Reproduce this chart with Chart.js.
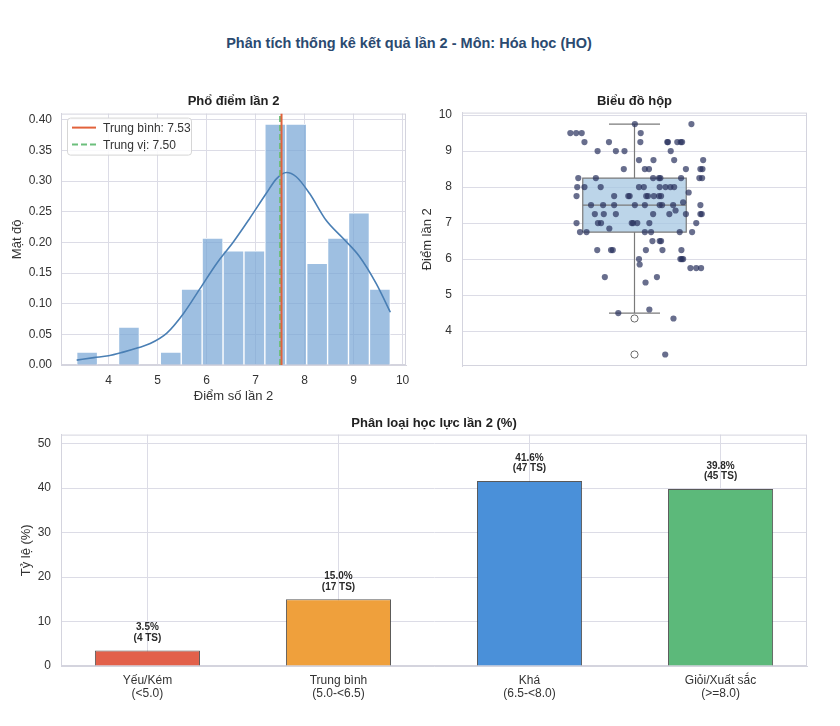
<!DOCTYPE html>
<html>
<head>
<meta charset="utf-8">
<script src="https://cdn.jsdelivr.net/npm/chart.js@4.4.1/dist/chart.umd.min.js"></script>
<style>
  body { margin: 0; background: #fff; }
  #page { position: relative; width: 840px; height: 726px; background: #fff; overflow: hidden; }
  #mainTitle { position: absolute; left: 0; top: 35px; width: 818px; text-align: center;
    font: bold 14.5px 'Liberation Sans', Arial, sans-serif; color: #2b4a70; }
  .pane { position: absolute; }
</style>
</head>
<body>
<div id="page">
  <div id="mainTitle">Phân tích thống kê kết quả lần 2 - Môn: Hóa học (HO)</div>
  <div class="pane" style="left:0;top:85px"><canvas id="histChart" width="420" height="330"></canvas></div>
  <div class="pane" style="left:420px;top:85px"><canvas id="boxChart" width="420" height="330"></canvas></div>
  <div class="pane" style="left:0;top:405px"><canvas id="gradeChart" width="840" height="321"></canvas></div>
</div>
<script>
// ---- data ----
// histogram (15 bins from 3.35 to 9.75), density values
const histBinCenters = [3.563, 3.990, 4.417, 4.843, 5.270, 5.697, 6.123, 6.550, 6.977, 7.403, 7.830, 8.257, 8.683, 9.110, 9.537];
const histDensity = [0.021, 0, 0.062, 0, 0.021, 0.124, 0.207, 0.186, 0.186, 0.393, 0.393, 0.166, 0.207, 0.248, 0.124];
// KDE curve
const kdeX = [3.35, 3.7, 4.0, 4.3, 4.6, 4.85, 5.19, 5.53, 5.87, 6.21, 6.55, 6.88, 7.22, 7.43, 7.63, 7.83, 8.1, 8.44, 8.78, 9.12, 9.46, 9.75];
const kdeY = [0.008, 0.012, 0.015, 0.021, 0.028, 0.035, 0.052, 0.084, 0.125, 0.166, 0.201, 0.239, 0.28, 0.304, 0.314, 0.307, 0.28, 0.236, 0.207, 0.177, 0.133, 0.086];
const meanScore = 7.53;
const medianScore = 7.50;
const histXTicks = [4, 5, 6, 7, 8, 9, 10];
const histYTicks = [0, 0.05, 0.10, 0.15, 0.20, 0.25, 0.30, 0.35, 0.40];

// box plot summary
const boxQ1 = 6.75, boxMedian = 7.5, boxQ3 = 8.25;
const whiskerLow = 4.5, whiskerHigh = 9.75;
const outliers = [4.35, 3.35];
const boxYTicks = [4, 5, 6, 7, 8, 9, 10];

// strip points (score, horizontal jitter in category units)
const stripScores = [
  9.75, 9.75,
  9.5, 9.5, 9.5, 9.5,
  9.25, 9.25, 9.25, 9.25, 9.25, 9.25, 9.25, 9.25,
  9.0, 9.0, 9.0, 9.0,
  8.75, 8.75, 8.75, 8.75,
  8.5, 8.5, 8.5, 8.5, 8.5, 8.5,
  8.25, 8.25, 8.25, 8.25, 8.25, 8.25, 8.25, 8.25,
  8.0, 8.0, 8.0, 8.0, 8.0, 8.0, 8.0, 8.0, 8.0,
  7.85,
  7.75, 7.75, 7.75, 7.75, 7.75, 7.75, 7.75, 7.75, 7.75,
  7.58,
  7.5, 7.5, 7.5, 7.5, 7.5, 7.5, 7.5, 7.5, 7.5,
  7.35,
  7.25, 7.25, 7.25, 7.25, 7.25, 7.25, 7.25, 7.25,
  7.0, 7.0, 7.0, 7.0, 7.0, 7.0, 7.0, 7.0,
  6.85,
  6.75, 6.75, 6.75, 6.75, 6.75, 6.75,
  6.5, 6.5, 6.5,
  6.25, 6.25, 6.25, 6.25, 6.25, 6.25,
  6.0, 6.0, 6.0, 6.0,
  5.85,
  5.75, 5.75, 5.75,
  5.5, 5.5,
  5.35,
  4.6, 4.5, 4.35, 3.35
];
const stripJitter = [
  0.001, 0.165,
  -0.186, -0.169, -0.153, 0.018,
  -0.145, -0.074, 0.017, 0.095, 0.097, 0.124, 0.134, 0.138,
  -0.107, -0.054, -0.029, 0.105,
  0.013, 0.055, 0.115, 0.199,
  -0.031, 0.030, 0.042, 0.149, 0.191, 0.197,
  -0.163, -0.112, 0.054, 0.071, 0.075, 0.135, 0.188, 0.196,
  -0.166, -0.145, -0.098, 0.013, 0.027, 0.073, 0.090, 0.104, 0.115,
  0.157,
  -0.168, -0.059, -0.018, -0.014, 0.034, 0.039, 0.056, 0.071, 0.077,
  0.141,
  -0.126, -0.091, -0.059, 0.001, 0.030, 0.073, 0.080, 0.112, 0.191,
  0.119,
  -0.115, -0.089, -0.054, 0.054, 0.101, 0.149, 0.191, 0.195,
  -0.168, -0.106, -0.097, -0.008, -0.004, 0.008, 0.043, 0.179,
  -0.073,
  -0.158, -0.139, 0.030, 0.048, 0.131, 0.167,
  0.052, 0.073, 0.077,
  -0.108, -0.068, -0.063, 0.033, 0.081, 0.136,
  0.013, 0.133, 0.137, 0.141,
  0.015,
  0.162, 0.179, 0.193,
  -0.086, 0.065,
  0.032,
  0.043, -0.047, 0.113, 0.089
];

// grade classification
const gradeLabels = [['Yếu/Kém', '(<5.0)'], ['Trung bình', '(5.0-<6.5)'], ['Khá', '(6.5-<8.0)'], ['Giỏi/Xuất sắc', '(>=8.0)']];
const gradePercent = [3.5, 15.0, 41.6, 39.8];
const gradeCount = [4, 17, 47, 45];
const gradeColors = ['#e2604a', '#efa03c', '#4a90d9', '#5cb97a'];

// ---- styling ----
const FONT = "'Liberation Sans', Arial, sans-serif";
const GRID = '#dcdce6';
const TEXT = '#333333';
Chart.defaults.font.family = FONT;
Chart.defaults.color = TEXT;
Chart.defaults.animation = false;

const setTicks = values => scale => { scale.ticks = values.map(v => ({ value: v })); };

// light frame round the plot area
const framePlugin = {
  id: 'frame',
  beforeDatasetsDraw(chart) {
    const a = chart.chartArea, ctx = chart.ctx;
    ctx.save();
    ctx.strokeStyle = '#d4d4de';
    ctx.lineWidth = 1;
    ctx.strokeRect(a.left + 0.5, a.top + 0.5, a.right - a.left - 1, a.bottom - a.top - 1);
    ctx.restore();
  }
};

// legend box for mean / median lines
const histLegend = {
  id: 'histLegend',
  afterDatasetsDraw(chart) {
    const a = chart.chartArea, ctx = chart.ctx;
    const x = a.left + 6, y = a.top + 4, w = 124, h = 37;
    ctx.save();
    ctx.fillStyle = 'rgba(255,255,255,0.85)';
    ctx.strokeStyle = '#d6d6d6';
    ctx.lineWidth = 1;
    ctx.beginPath();
    ctx.roundRect(x + 0.5, y + 0.5, w, h, 3);
    ctx.fill();
    ctx.stroke();
    const rows = [
      { ds: chart.data.datasets[0], text: 'Trung bình: ' + meanScore.toFixed(2) },
      { ds: chart.data.datasets[1], text: 'Trung vị: ' + medianScore.toFixed(2) }
    ];
    rows.forEach((r, i) => {
      const cy = y + 10 + i * 17;
      ctx.strokeStyle = r.ds.borderColor;
      ctx.lineWidth = 2;
      ctx.setLineDash(r.ds.borderDash || []);
      ctx.beginPath();
      ctx.moveTo(x + 5, cy);
      ctx.lineTo(x + 29, cy);
      ctx.stroke();
      ctx.setLineDash([]);
      ctx.fillStyle = TEXT;
      ctx.font = '12px ' + FONT;
      ctx.textBaseline = 'middle';
      ctx.fillText(r.text, x + 36, cy + 1);
    });
    ctx.restore();
  }
};

// ---- histogram ----
new Chart(document.getElementById('histChart'), {
  type: 'bar',
  data: {
    datasets: [
      { type: 'line', label: 'Trung bình', data: [{ x: meanScore, y: 0 }, { x: meanScore, y: 0.41 }],
        borderColor: '#e2623b', borderWidth: 2, pointRadius: 0, order: 0 },
      { type: 'line', label: 'Trung vị', data: [{ x: medianScore, y: 0 }, { x: medianScore, y: 0.41 }],
        borderColor: '#6cbf7c', borderWidth: 2, borderDash: [6, 3], pointRadius: 0, order: 0 },
      { type: 'line', label: 'KDE', data: kdeX.map((x, i) => ({ x, y: kdeY[i] })),
        borderColor: '#4a7fb4', borderWidth: 1.6, pointRadius: 0, cubicInterpolationMode: 'monotone', order: 1 },
      { type: 'bar', label: 'Mật độ', data: histBinCenters.map((x, i) => ({ x, y: histDensity[i] })),
        backgroundColor: 'rgba(120,166,214,0.72)', borderColor: '#ffffff', borderWidth: 1,
        barPercentage: 1, categoryPercentage: 1, order: 2 }
    ]
  },
  options: {
    responsive: false,
    layout: { padding: { left: 0, right: 14, top: 0, bottom: 0 } },
    plugins: {
      legend: { display: false },
      tooltip: { enabled: false },
      title: { display: true, text: 'Phổ điểm lần 2', fullSize: false, color: '#222',
        font: { size: 13, weight: 'bold' }, padding: { top: 9, bottom: 4 } }
    },
    scales: {
      x: {
        type: 'linear', min: 3.03, max: 10.07, offset: false,
        afterBuildTicks: setTicks(histXTicks),
        afterFit: s => { s.height = 50; },
        grid: { color: GRID, drawTicks: false, offset: false },
        border: { color: '#d4d4de' },
        ticks: { padding: 8, font: { size: 12 }, callback: v => String(v) },
        title: { display: true, text: 'Điểm số lần 2', font: { size: 13 }, padding: { top: 0, bottom: 11 } }
      },
      y: {
        min: 0, max: 0.41,
        afterBuildTicks: setTicks(histYTicks),
        afterFit: s => { s.width = 61; },
        grid: { color: GRID, drawTicks: false },
        border: { color: '#d4d4de' },
        ticks: { padding: 9, font: { size: 12 }, callback: v => v.toFixed(2) },
        title: { display: true, text: 'Mật độ', font: { size: 13 }, padding: { top: 10, bottom: 0 } }
      }
    }
  },
  plugins: [framePlugin, histLegend]
});

// ---- box plot with strip points ----
const BOX_HALF = 0.15, CAP_HALF = 0.074;
const lineStyle = { type: 'line', borderColor: '#7a7a7a', borderWidth: 1.2, pointRadius: 0, fill: false, order: 3 };
new Chart(document.getElementById('boxChart'), {
  type: 'scatter',
  data: {
    datasets: [
      { label: 'Điểm', data: stripScores.map((y, i) => ({ x: stripJitter[i], y })),
        backgroundColor: 'rgba(40,48,92,0.7)', borderColor: 'rgba(40,48,92,0.0)', pointRadius: 3.1, order: 0 },
      { label: 'Ngoại lai', data: outliers.map(y => ({ x: 0, y })),
        backgroundColor: '#ffffff', borderColor: '#6a6a6a', borderWidth: 1, pointRadius: 3.6, order: 1 },
      { ...lineStyle, label: 'median', data: [{ x: -BOX_HALF, y: boxMedian }, { x: BOX_HALF, y: boxMedian }], order: 2 },
      { ...lineStyle, label: 'box', order: 4, fill: 'shape', backgroundColor: 'rgba(165,199,226,0.75)',
        data: [{ x: -BOX_HALF, y: boxQ1 }, { x: BOX_HALF, y: boxQ1 }, { x: BOX_HALF, y: boxQ3 },
               { x: -BOX_HALF, y: boxQ3 }, { x: -BOX_HALF, y: boxQ1 }] },
      { ...lineStyle, label: 'whiskerHigh', data: [{ x: 0, y: boxQ3 }, { x: 0, y: whiskerHigh }] },
      { ...lineStyle, label: 'capHigh', data: [{ x: -CAP_HALF, y: whiskerHigh }, { x: CAP_HALF, y: whiskerHigh }] },
      { ...lineStyle, label: 'whiskerLow', data: [{ x: 0, y: boxQ1 }, { x: 0, y: whiskerLow }] },
      { ...lineStyle, label: 'capLow', data: [{ x: -CAP_HALF, y: whiskerLow }, { x: CAP_HALF, y: whiskerLow }] }
    ]
  },
  options: {
    responsive: false,
    layout: { padding: { left: 0, right: 33, top: 0, bottom: 49 } },
    plugins: {
      legend: { display: false },
      tooltip: { enabled: false },
      title: { display: true, text: 'Biểu đồ hộp', fullSize: false, color: '#222',
        font: { size: 13, weight: 'bold' }, padding: { top: 9, bottom: 3 } }
    },
    scales: {
      x: { type: 'linear', min: -0.5, max: 0.5, display: false },
      y: {
        min: 3.03, max: 10.07,
        afterBuildTicks: setTicks(boxYTicks),
        afterFit: s => { s.width = 42; },
        grid: { color: GRID, drawTicks: false },
        border: { color: '#d4d4de' },
        ticks: { padding: 10, font: { size: 12 } },
        title: { display: true, text: 'Điểm lần 2', font: { size: 13 }, padding: { top: 0, bottom: 0 } }
      }
    }
  },
  plugins: [framePlugin]
});

// ---- grade classification bars ----
const barLabels = {
  id: 'barLabels',
  afterDatasetsDraw(chart) {
    const ctx = chart.ctx;
    const meta = chart.getDatasetMeta(0);
    ctx.save();
    ctx.fillStyle = '#2a2a2a';
    ctx.font = 'bold 10px ' + FONT;
    ctx.textAlign = 'center';
    ctx.textBaseline = 'middle';
    meta.data.forEach((bar, i) => {
      ctx.fillText(gradePercent[i].toFixed(1) + '%', bar.x, bar.y - 23);
      ctx.fillText('(' + gradeCount[i] + ' TS)', bar.x, bar.y - 12.5);
    });
    ctx.restore();
  }
};

new Chart(document.getElementById('gradeChart'), {
  type: 'bar',
  data: {
    datasets: [{
      label: 'Tỷ lệ (%)',
      data: gradePercent.map((y, i) => ({ x: i, y })),
      backgroundColor: gradeColors,
      borderColor: 'rgba(60,60,60,0.85)',
      borderWidth: 1,
      barPercentage: 0.55,
      categoryPercentage: 1
    }]
  },
  options: {
    responsive: false,
    layout: { padding: { left: 0, right: 33, top: 0, bottom: 0 } },
    plugins: {
      legend: { display: false },
      tooltip: { enabled: false },
      title: { display: true, text: 'Phân loại học lực lần 2 (%)', fullSize: false, color: '#222',
        font: { size: 13, weight: 'bold' }, padding: { top: 11, bottom: 3 } }
    },
    scales: {
      x: {
        type: 'linear', min: -0.4525, max: 3.4525, offset: false,
        afterBuildTicks: setTicks([0, 1, 2, 3]),
        afterFit: s => { s.height = 60; },
        grid: { color: GRID, drawTicks: false, offset: false },
        border: { color: '#d4d4de' },
        ticks: { padding: 8, font: { size: 12, lineHeight: 1.1 }, callback: v => gradeLabels[v] }
      },
      y: {
        min: 0, max: 52,
        afterBuildTicks: setTicks([0, 10, 20, 30, 40, 50]),
        afterFit: s => { s.width = 61; },
        grid: { color: GRID, drawTicks: false },
        border: { color: '#d4d4de' },
        ticks: { padding: 10, font: { size: 12 } },
        title: { display: true, text: 'Tỷ lệ (%)', font: { size: 13 }, padding: { top: 19, bottom: 0 } }
      }
    }
  },
  plugins: [framePlugin, barLabels]
});
</script>
</body>
</html>
